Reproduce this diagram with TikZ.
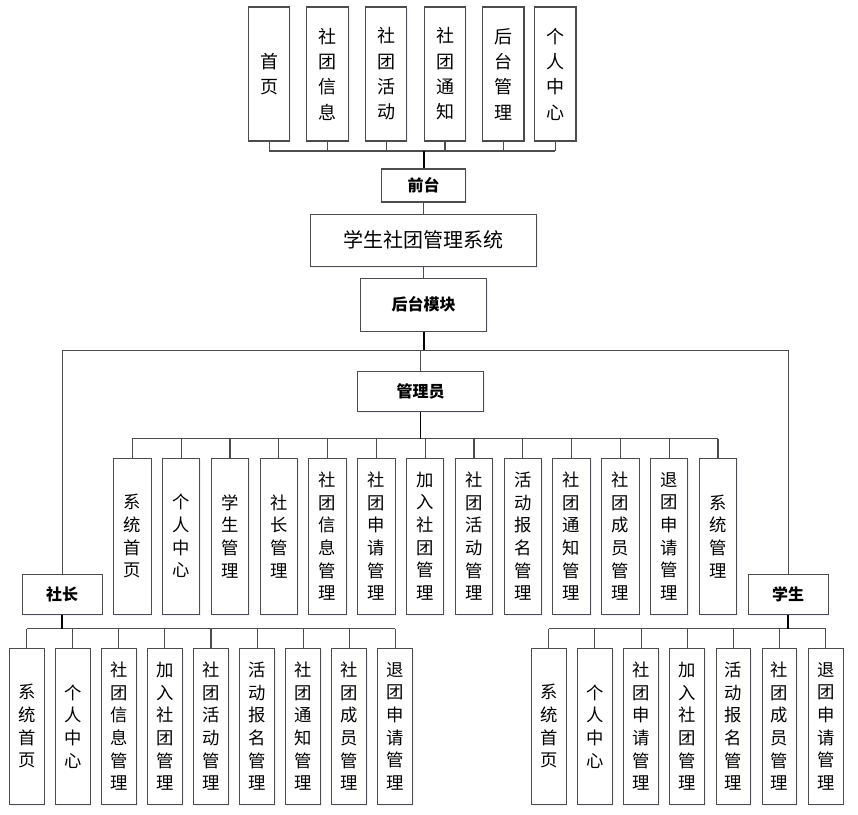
\documentclass[tikz,border=0pt]{standalone}
\usepackage{fontspec}
\newfontfamily\cjk{Noto Sans CJK SC}
\usetikzlibrary{positioning,shadows}

\begin{document}
\begin{tikzpicture}[
  x=0.75pt, y=-0.75pt,
  font=\cjk,
  box/.style={draw=black!70, line width=0.8pt, fill=white, align=center, inner sep=0pt,
    drop shadow={shadow xshift=1pt, shadow yshift=-1pt, fill=blue!20, opacity=0.3}},
  tbox/.style={box, minimum width=31pt, minimum height=100.5pt, font=\cjk\fontsize{13.5}{19}\selectfont},
  mbox/.style={box, minimum width=28pt, minimum height=117pt, font=\cjk\fontsize{13}{17}\selectfont},
  sbox/.style={box, minimum width=26pt, minimum height=117pt, font=\cjk\fontsize{13}{17}\selectfont},
  hbox/.style={box, font=\cjk\bfseries\fontsize{12}{14}\selectfont},
  link/.style={draw=black!70, line width=0.8pt},
  trunk/.style={draw=black, line width=1.4pt}
]
% canvas in pixel units of the original sheet
\useasboundingbox (0,0) rectangle (858,815);

% front end pages
\foreach \t/\x [count=\i] in {{首\\页}/269.2, {社\\团\\信\\息}/327.5, {社\\团\\活\\动}/386.2,
    {社\\团\\通\\知}/445, {后\\台\\管\\理}/503.3, {个\\人\\中\\心}/555.3}
  \node[tbox] (t\i) at (\x,74) {\t};

\node[hbox, minimum width=63pt, minimum height=24.75pt] (qt) at (423.6,185.5) {前台};
\node[box, minimum width=169.5pt, minimum height=39pt, font=\cjk\fontsize{15}{18}\selectfont] (sys) at (423.6,240.3) {学生社团管理系统};
\node[hbox, minimum width=94.3pt, minimum height=39.5pt] (ht) at (423.6,304.7) {后台模块};

% roles
\node[hbox, minimum width=94.2pt, minimum height=30pt] (gly) at (420.5,391.7) {管理员};
\node[hbox, minimum width=59.8pt, minimum height=29.7pt] (sz) at (62.2,594.5) {社长};
\node[hbox, minimum width=59.8pt, minimum height=29.7pt] (xs) at (788.2,594.5) {学生};

% admin functions
\foreach \t [count=\i] in {{系\\统\\首\\页}, {个\\人\\中\\心}, {学\\生\\管\\理}, {社\\长\\管\\理},
    {社\\团\\信\\息\\管\\理}, {社\\团\\申\\请\\管\\理}, {加\\入\\社\\团\\管\\理}, {社\\团\\活\\动\\管\\理},
    {活\\动\\报\\名\\管\\理}, {社\\团\\通\\知\\管\\理}, {社\\团\\成\\员\\管\\理}, {退\\团\\申\\请\\管\\理},
    {系\\统\\管\\理}}
  \node[mbox] (a\i) at ({132.4+48.8*(\i-1)},536.2) {\t};

% club leader functions
\foreach \t [count=\i] in {{系\\统\\首\\页}, {个\\人\\中\\心}, {社\\团\\信\\息\\管\\理}, {加\\入\\社\\团\\管\\理},
    {社\\团\\活\\动\\管\\理}, {活\\动\\报\\名\\管\\理}, {社\\团\\通\\知\\管\\理}, {社\\团\\成\\员\\管\\理},
    {退\\团\\申\\请\\管\\理}}
  \node[sbox] (z\i) at ({26.7+46.07*(\i-1)},726.3) {\t};

% student functions
\foreach \t [count=\i] in {{系\\统\\首\\页}, {个\\人\\中\\心}, {社\\团\\申\\请\\管\\理}, {加\\入\\社\\团\\管\\理},
    {活\\动\\报\\名\\管\\理}, {社\\团\\成\\员\\管\\理}, {退\\团\\申\\请\\管\\理}}
  \node[sbox] (s\i) at ({548.7+46.17*(\i-1)},726.3) {\t};

% bus lines
\coordinate (tbus) at (423.6,151);
\coordinate (mbus) at (423.6,350.3);
\coordinate (abus) at (0,438.7);
\coordinate (zbus) at (0,628.7);

\foreach \i in {1,...,6}
  \draw[link] (t\i.south) -- (t\i.south |- tbus);
\draw[link] (t1.south |- tbus) -- (t6.south |- tbus);
\draw[trunk] (tbus) -- (qt.north);
\draw[link] (qt.south) -- (sys.north);
\draw[link] (sys.south) -- (ht.north);

\draw[trunk] (ht.south) -- (mbus);
\draw[link] (sz.north) |- (mbus) -| (xs.north);
\draw[link] (gly.north |- mbus) -- (gly.north);

\foreach \i in {1,...,13}
  \draw[link] (a\i.north) -- (a\i.north |- abus);
\draw[link] (a1.north |- abus) -- (a13.north |- abus);
\draw[trunk] (gly.south) -- (gly.south |- abus);

\foreach \i in {1,...,9}
  \draw[link] (z\i.north) -- (z\i.north |- zbus);
\draw[link] (z1.north |- zbus) -- (z9.north |- zbus);
\draw[trunk] (sz.south) -- (sz.south |- zbus);

\foreach \i in {1,...,7}
  \draw[link] (s\i.north) -- (s\i.north |- zbus);
\draw[link] (s1.north |- zbus) -- (s7.north |- zbus);
\draw[trunk] (xs.south) -- (xs.south |- zbus);

\end{tikzpicture}
\end{document}
